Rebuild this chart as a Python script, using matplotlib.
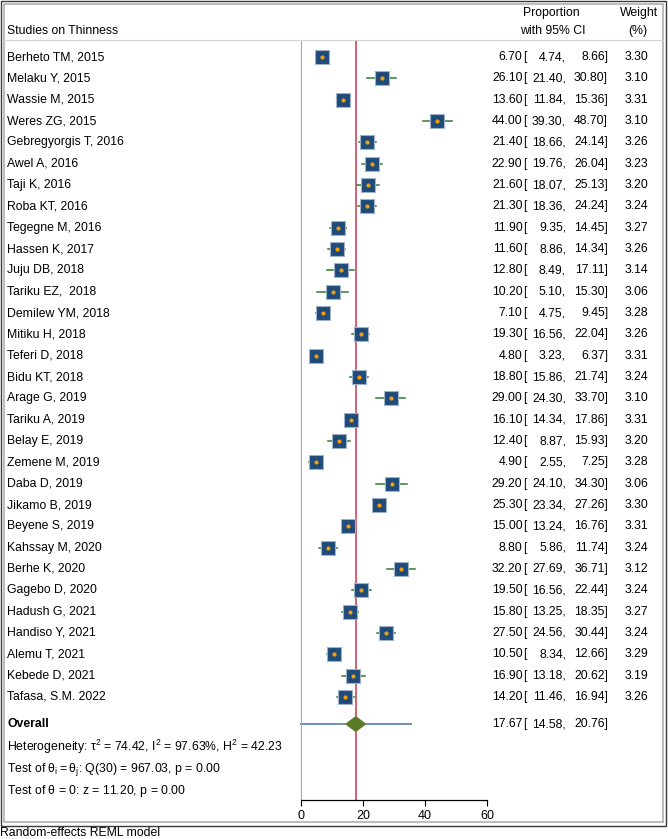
"""
Forest plot of thinness prevalence studies (random-effects REML).
"""

import matplotlib
matplotlib.use("Agg")
import matplotlib.pyplot as plt
import matplotlib.transforms as mtransforms
from matplotlib.patches import Rectangle, Polygon

plt.rcParams['font.family'] = ['Liberation Sans', 'DejaVu Sans']
plt.rcParams['font.size'] = 8.8

studies = ["Berheto TM, 2015", "Melaku Y, 2015", "Wassie M, 2015", "Weres ZG, 2015",
           "Gebregyorgis T, 2016", "Awel A, 2016", "Taji K, 2016", "Roba KT, 2016",
           "Tegegne M, 2016", "Hassen K, 2017", "Juju DB, 2018", "Tariku EZ,  2018",
           "Demilew YM, 2018", "Mitiku H, 2018", "Teferi D, 2018", "Bidu KT, 2018",
           "Arage G, 2019", "Tariku A, 2019", "Belay E, 2019", "Zemene M, 2019",
           "Daba D, 2019", "Jikamo B, 2019", "Beyene S, 2019", "Kahssay M, 2020",
           "Berhe K, 2020", "Gagebo D, 2020", "Hadush G, 2021", "Handiso Y, 2021",
           "Alemu T, 2021", "Kebede D, 2021", "Tafasa, S.M. 2022"]
est = [6.70, 26.10, 13.60, 44.00, 21.40, 22.90, 21.60, 21.30, 11.90, 11.60, 12.80,
       10.20, 7.10, 19.30, 4.80, 18.80, 29.00, 16.10, 12.40, 4.90, 29.20, 25.30,
       15.00, 8.80, 32.20, 19.50, 15.80, 27.50, 10.50, 16.90, 14.20]
lo = [4.74, 21.40, 11.84, 39.30, 18.66, 19.76, 18.07, 18.36, 9.35, 8.86, 8.49,
      5.10, 4.75, 16.56, 3.23, 15.86, 24.30, 14.34, 8.87, 2.55, 24.10, 23.34,
      13.24, 5.86, 27.69, 16.56, 13.25, 24.56, 8.34, 13.18, 11.46]
hi = [8.66, 30.80, 15.36, 48.70, 24.14, 26.04, 25.13, 24.24, 14.45, 14.34, 17.11,
      15.30, 9.45, 22.04, 6.37, 21.74, 33.70, 17.86, 15.93, 7.25, 34.30, 27.26,
      16.76, 11.74, 36.71, 22.44, 18.35, 30.44, 12.66, 20.62, 16.94]
weight = [3.30, 3.10, 3.31, 3.10, 3.26, 3.23, 3.20, 3.24, 3.27, 3.26, 3.14,
          3.06, 3.28, 3.26, 3.31, 3.24, 3.10, 3.31, 3.20, 3.28, 3.06, 3.30,
          3.31, 3.24, 3.12, 3.24, 3.27, 3.24, 3.29, 3.19, 3.26]

overall = 17.67
overall_ci = (14.58, 20.76)
overall_pi = (0.0, 35.6)
xticks = [0, 20, 40, 60]

stats_lines = [
    r"Heterogeneity: $\mathregular{\tau^2}$ = 74.42, $\mathregular{I^2}$ = 97.63%, $\mathregular{H^2}$ = 42.23",
    r"Test of $\mathregular{\theta_i = \theta_j}$: Q(30) = 967.03, p = 0.00",
    r"Test of $\mathregular{\theta}$ = 0: z = 11.20, p = 0.00",
]

W, H = 668, 839
fig = plt.figure(figsize=(W / 100, H / 100), dpi=100)

def fx(px):
    return px / W

def fy(py):
    return 1 - py / H

# plot panel: x 0..60 -> px 301..487, rows between px 40 and 800
ax = fig.add_axes([fx(301), fy(800), fx(487) - fx(301), fy(40) - fy(800)])
ax.set_xlim(0, 60)
ax.set_ylim(34.83, -0.8)

ax.spines['top'].set_visible(False)
ax.spines['right'].set_visible(False)
ax.spines['left'].set_color('#a8a8a8')
ax.spines['bottom'].set_color('black')
ax.spines['bottom'].set_linewidth(0.9)
ax.set_yticks([])
ax.set_xticks(xticks)
ax.tick_params(axis='x', direction='out', length=4, width=0.8, labelsize=9, pad=3)

rows = list(range(len(studies)))
ax.axvline(overall, color='#c8374a', lw=1.1, zorder=1)

for i in rows:
    ax.plot([lo[i], hi[i]], [i, i], color='#2f7d32', lw=1.1, zorder=2)
    ms = 10.5 * (weight[i] / max(weight)) ** 0.5
    ax.plot(est[i], i, marker='s', ms=ms, mfc='#1f4b7a', mec='#9fb3c8', mew=0.8, zorder=3)
    ax.plot(est[i], i, marker='o', ms=3.0, mfc='#f39c12', mec='none', zorder=4)

y_overall = 31.27
ax.plot(overall_pi, [y_overall, y_overall], color='#6f8fb0', lw=1.4, zorder=2, clip_on=False)
diamond = Polygon([(overall_ci[0], y_overall), (overall, y_overall - 0.34),
                   (overall_ci[1], y_overall), (overall, y_overall + 0.34)],
                  closed=True, fc='#5a7a2a', ec='#5a7a2a', zorder=3)
ax.add_patch(diamond)

# text columns in figure pixels (x) and row units (y)
tr = mtransforms.blended_transform_factory(fig.transFigure, ax.transData)

def ci_text(y, e, l, h):
    ax.text(fx(522.5), y, f"{e:.2f}", transform=tr, va='center', ha='right')
    ax.text(fx(523.5), y, "[", transform=tr, va='center', ha='left')
    ax.text(fx(566), y, f"{l:.2f},", transform=tr, va='center', ha='right')
    ax.text(fx(608), y, f"{h:.2f}]", transform=tr, va='center', ha='right')

for i in rows:
    ax.text(fx(7), i, studies[i], transform=tr, va='center', ha='left')
    ci_text(i, est[i], lo[i], hi[i])
    ax.text(fx(648), i, f"{weight[i]:.2f}", transform=tr, va='center', ha='right')

ax.text(fx(7), y_overall, "Overall", transform=tr, va='center', ha='left', fontweight='bold')
ci_text(y_overall, overall, overall_ci[0], overall_ci[1])

for k, line in enumerate(stats_lines):
    ax.text(fx(7), [32.35, 33.38, 34.4][k], line, transform=tr, va='center', ha='left')

# header
fig.text(fx(7), fy(31), "Studies on Thinness", ha='left', va='center')
fig.text(fx(551), fy(13), "Proportion", ha='center', va='center')
fig.text(fx(553), fy(31), "with 95% CI", ha='center', va='center')
fig.text(fx(639), fy(13), "Weight", ha='center', va='center')
fig.text(fx(638), fy(31), "(%)", ha='center', va='center')

# header separator and double frame
fig.add_artist(plt.Line2D([fx(4), fx(663)], [fy(40), fy(40)], color='#d4d4d4', lw=0.8))
fig.add_artist(Rectangle((fx(1), fy(825.5)), fx(666) - fx(1), fy(1) - fy(825.5),
                         fill=False, ec='#3a3a3a', lw=1.0))
fig.add_artist(Rectangle((fx(3.5), fy(822)), fx(663.5) - fx(3.5), fy(3.5) - fy(822),
                         fill=False, ec='#b0b0b0', lw=1.2))

fig.text(fx(0), fy(838.5), "Random-effects REML model", ha='left', va='bottom')

fig.savefig("out.png", dpi=100)
